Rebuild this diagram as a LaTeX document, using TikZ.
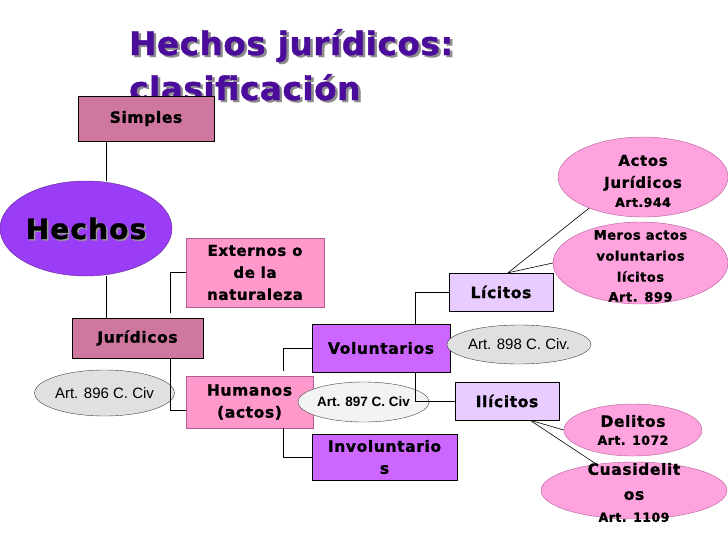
\documentclass[tikz,border=0pt]{standalone}
\usepackage{fontspec}
\setmainfont{Liberation Sans}
\newfontfamily\heavy[LetterSpace=4, BoldFeatures={FakeBold=1.2}]{DejaVu Sans}
\newfontfamily\titlefont[LetterSpace=2, BoldFeatures={FakeBold=1.2}]{DejaVu Sans}
\usetikzlibrary{shapes.geometric, positioning}

\definecolor{titpurple}{HTML}{4B0C9C}
\definecolor{mauve}{HTML}{D0779F}
\definecolor{rosa}{HTML}{FF99CC}
\definecolor{rosaborde}{HTML}{B05A96}
\definecolor{violeta}{HTML}{9B3CF6}
\definecolor{lila}{HTML}{CC66FF}
\definecolor{lavanda}{HTML}{E8CCFF}
\definecolor{rosaell}{HTML}{FFA3DE}
\definecolor{gris}{HTML}{E0E0E0}

\newcommand{\artsize}[1]{{\fontsize{12.5}{14}\selectfont #1}}

\tikzset{
  box/.style={draw, rectangle, inner sep=1pt, align=center,
    font=\heavy\bfseries\fontsize{15.5}{18}\selectfont},
  ell/.style={draw, ellipse, inner sep=0pt, align=center},
  artell/.style={ell, fill=gris, draw=black!75, font=\fontsize{15}{17}\selectfont},
  pinkell/.style={ell, fill=rosaell, draw=rosaborde},
  elltext/.style={align=center, inner sep=0pt},
  titletext/.style={anchor=base west, inner sep=0pt, text=titpurple,
    font=\titlefont\bfseries\fontsize{32.5}{40}\selectfont},
  conn/.style={draw, line width=0.8pt}
}

\begin{document}
\begin{tikzpicture}[x=1pt, y=-1pt]
  \useasboundingbox (0,0) rectangle (728,546);
  % titulo con sombra
  \node[titletext, text=black!45] (tit1sh) at (131.5,57) {Hechos jurídicos:};
  \node[titletext, text=black!45] (tit2sh) at (131.5,102) {clasificación};
  \node[titletext] (tit1) at (129,55) {Hechos jurídicos:};
  \node[titletext] (tit2) at (129,100) {clasificación};

  % nivel 1
  \node[box, fill=mauve, minimum width=136pt, minimum height=45pt] (simp) at (146,118.5) {Simples};
  \node[ell, fill=violeta, draw=violeta!60!black, minimum width=172pt, minimum height=95pt] (hechos) at (86,228.5) {};
  \node[font=\heavy\bfseries\fontsize{28}{32}\selectfont, text=black!40] (hechossh) at ([shift={(1.5pt,-1.5pt)}]hechos.center) {Hechos};
  \node[font=\heavy\bfseries\fontsize{28}{32}\selectfont] (hechostxt) at (hechos.center) {Hechos};
  \node[box, fill=mauve, minimum width=131pt, minimum height=40pt] (jur) at (137.5,338) {Jurídicos};
  \node[artell, minimum width=123pt, minimum height=46pt] (art896) at (104.5,393) {Art. 896 C. Civ};

  % nivel 2
  \node[box, fill=rosa, draw=rosaborde, minimum width=138pt, minimum height=69pt,
        font=\heavy\bfseries\fontsize{15}{22}\selectfont] (ext) at (255,272.5) {Externos o\\de la\\naturaleza};
  \node[box, fill=rosa, draw=rosaborde, minimum width=127pt, minimum height=52pt,
        font=\heavy\bfseries\fontsize{15.5}{22}\selectfont] (hum) at (249.5,402) {Humanos\\(actos)};

  % nivel 3
  \node[box, fill=lila, minimum width=138pt, minimum height=48pt] (vol) at (381,348) {Voluntarios};
  \node[box, fill=lila, minimum width=145pt, minimum height=46pt,
        font=\heavy\bfseries\fontsize{15.5}{22}\selectfont] (inv) at (384.5,457) {Involuntario\\s};
  \node[artell, fill=gris!40, minimum width=115pt, minimum height=40pt,
        font=\bfseries\fontsize{13.5}{15}\selectfont] (art897) at (363.5,402) {Art. 897 C. Civ};

  % nivel 4
  \node[box, fill=lavanda, minimum width=104pt, minimum height=38pt] (lic) at (501,292) {Lícitos};
  \node[box, fill=lavanda, minimum width=104pt, minimum height=38pt] (ilic) at (507,401) {Ilícitos};
  \node[artell, minimum width=114pt, minimum height=39pt] (art898) at (519,344.5) {Art. 898 C. Civ.};

  % nivel 5
  \node[pinkell, minimum width=170pt, minimum height=80pt,
        label={[elltext, yshift=-4pt, font=\heavy\bfseries\fontsize{15}{22}\selectfont]center:{Actos\\Jurídicos\\[-3pt]\artsize{Art.944}}}] (actos) at (643,177) {};
  \node[pinkell, minimum width=175pt, minimum height=82pt,
        label={[elltext, yshift=-3pt, font=\heavy\bfseries\fontsize{13}{21}\selectfont]center:{Meros actos\\voluntarios\\lícitos\\[-1pt]Art. 899}}] (meros) at (640.5,263) {};
  \node[pinkell, minimum width=138pt, minimum height=52pt,
        label={[elltext, font=\heavy\bfseries\fontsize{15.5}{20}\selectfont]center:{Delitos\\[-2pt]\artsize{Art. 1072}}}] (delit) at (633,430) {};
  \node[pinkell, minimum width=186pt, minimum height=57pt,
        label={[elltext, yshift=-2pt, font=\heavy\bfseries\fontsize{15.5}{25}\selectfont]center:{Cuasidelit\\os\\[-3pt]\artsize{Art. 1109}}}] (cuasi) at (634,490.5) {};

  % conectores
  \coordinate (sx) at ([xshift=-40pt]simp.south);
  \draw[conn] (sx) -- (sx |- hechos.north);
  \draw[conn] (sx |- hechos.south) -- (sx |- jur.north);
  \draw[conn] (ext.west) -| ([xshift=-33pt,yshift=5pt]jur.north east);
  \draw[conn] ([xshift=-33pt]jur.south east) |- ([yshift=-8pt]hum.west);
  \draw[conn] ([xshift=-30pt,yshift=5pt]hum.north east) |- (vol.west);
  \draw[conn] ([xshift=-30pt]hum.south east) |- (inv.west);
  \draw[conn] ([xshift=-35pt]vol.north east) |- (lic.west);
  \draw[conn] ([xshift=-35pt]vol.south east) |- (ilic.west);
  \draw[line width=0.6pt] ([xshift=7pt]lic.north) -- (actos.210);
  \draw[line width=0.6pt] ([xshift=7pt]lic.north) -- (meros.west);
  \draw[line width=0.6pt] ([xshift=23pt]ilic.south) -- (delit.west);
  \draw[line width=0.6pt] ([xshift=23pt]ilic.south) -- (cuasi.145);
\end{tikzpicture}
\end{document}
